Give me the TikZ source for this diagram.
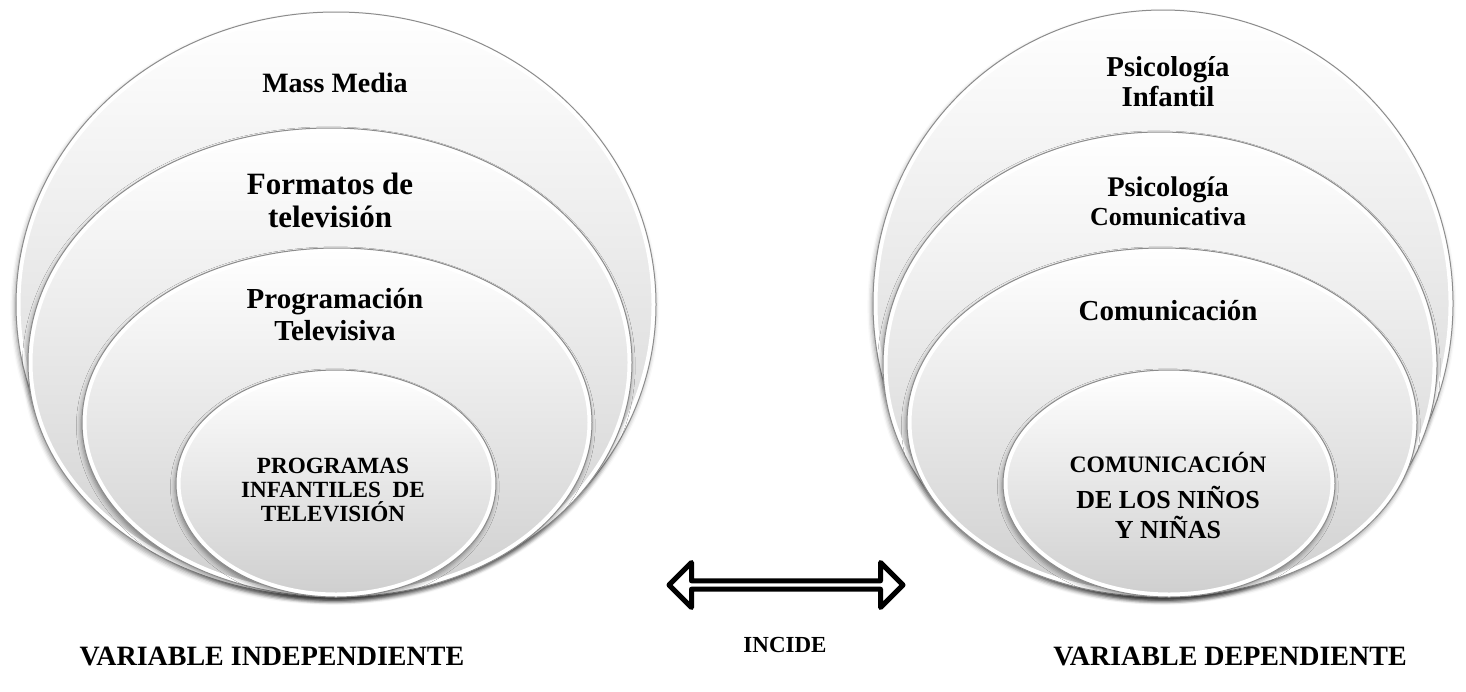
\documentclass[tikz,border=0pt]{standalone}
\usepackage{fontspec}
\setmainfont{Liberation Serif}
\usetikzlibrary{shapes.geometric,shapes.arrows,shadows.blur,calc}

\begin{document}
\begin{tikzpicture}[x=0.5pt,y=-0.5pt,
    ring/.style={ellipse,draw=black!45,line width=0.5pt,top color=white,middle color=black!2,bottom color=black!19,
        blur shadow={shadow xshift=-0.6pt,shadow yshift=-1.6pt,shadow blur radius=2.2pt,shadow opacity=40},
        path picture={\draw let \p1=(path picture bounding box.north east),\p2=(path picture bounding box.center)
            in [white,line width=4.5pt] (\p2) ellipse [x radius=\x1-\x2,y radius=\y1-\y2];}},
    lbl/.style={align=center,inner sep=0pt}]
    \useasboundingbox (0,0) rectangle (1466,691);

    % variable independiente
    \node[ring,minimum width=320pt,minimum height=292.5pt] (mass) at (336,304.5) {};
    \node[ring,minimum width=302pt,minimum height=234.5pt] (formatos) at (330,362.5) {};
    \node[ring,minimum width=255pt,minimum height=174.5pt] (progtv) at (337,422.5) {};
    \node[ring,minimum width=160pt,minimum height=113.5pt] (proginf) at (336,483.5) {};

    \node[lbl,font=\bfseries\fontsize{14}{16}\selectfont] (tmass) at (335,83) {Mass Media};
    \node[lbl,font=\bfseries\fontsize{15.5}{16.5}\selectfont] (tformatos) at (330,200) {Formatos de\\televisión};
    \node[lbl,font=\bfseries\fontsize{14.5}{16}\selectfont] (tprogtv) at (335,315) {Programación\\Televisiva};
    \node[lbl,font=\bfseries\fontsize{11.6}{12.2}\selectfont] (tproginf) at (333,490) {PROGRAMAS\\INFANTILES\ \ DE\\TELEVISIÓN};

    % variable dependiente
    \node[ring,minimum width=290pt,minimum height=293.5pt] (psinf) at (1163,303.5) {};
    \node[ring,minimum width=277pt,minimum height=232.5pt] (psicom) at (1160,364.5) {};
    \node[ring,minimum width=255pt,minimum height=174.5pt] (comun) at (1162,422.5) {};
    \node[ring,minimum width=166pt,minimum height=113.5pt] (comninos) at (1169,483.5) {};

    \node[lbl,font=\bfseries\fontsize{14.4}{15}\selectfont] (tpsinf) at (1168,82) {Psicología\\Infantil};
    \node[lbl,font=\bfseries\fontsize{14.2}{14.5}\selectfont] (tpsicom) at (1168,201) {Psicología\\{\fontsize{13}{14}\selectfont Comunicativa}};
    \node[lbl,font=\bfseries\fontsize{14.5}{16}\selectfont] (tcomun) at (1168,311) {Comunicación};
    \node[lbl,font=\bfseries\fontsize{13}{15}\selectfont] (tcomninos) at (1168,495) {{\fontsize{11.8}{13}\selectfont COMUNICACIÓN}\\[3pt]DE LOS NIÑOS\\Y NIÑAS};

    % incide
    \node[double arrow,draw,fill=white,line width=2.5pt,line join=round,inner sep=0pt,
        minimum height=117pt,minimum width=22.5pt,double arrow head extend=5.5pt] (incarrow) at (786,585) {};
    \node[lbl,font=\bfseries\fontsize{11.5}{13}\selectfont] (tincide) at (785,645) {INCIDE};

    \node[lbl,font=\bfseries\fontsize{14}{16}\selectfont] (tvarind) at (272,656) {VARIABLE INDEPENDIENTE};
    \node[lbl,font=\bfseries\fontsize{14}{16}\selectfont] (tvardep) at (1230,656) {VARIABLE DEPENDIENTE};
\end{tikzpicture}
\end{document}
